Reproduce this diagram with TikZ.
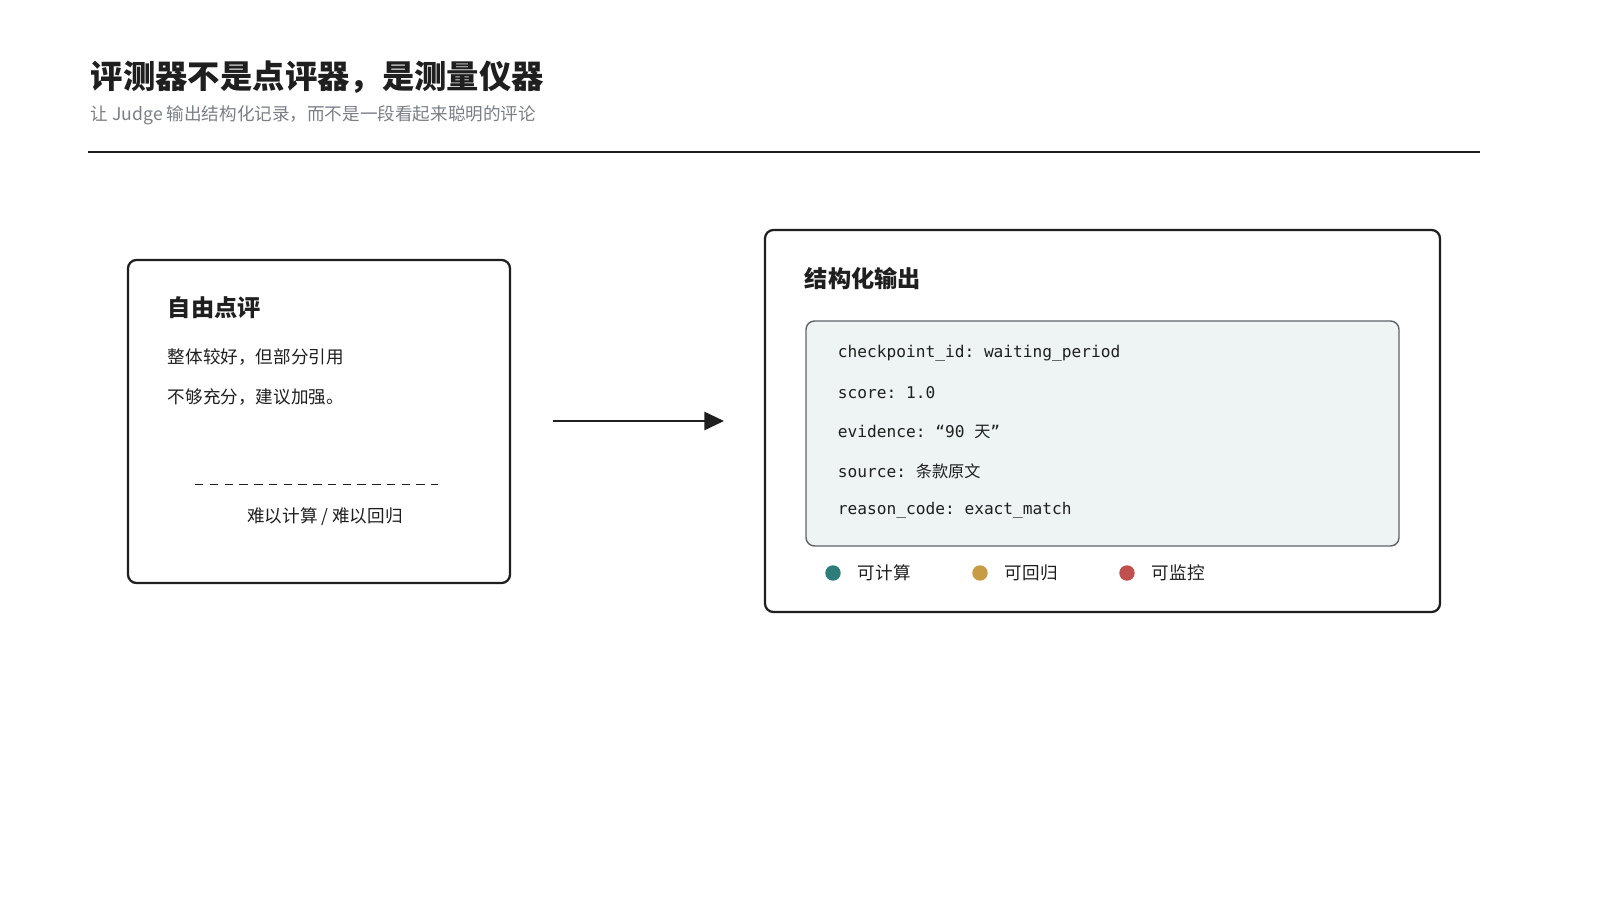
\documentclass[tikz,border=0pt]{standalone}
\usepackage{fontspec}
\setmainfont{Noto Sans CJK SC}
\setmonofont{DejaVu Sans Mono}
\newfontfamily\cjk{Noto Sans CJK SC}
\usetikzlibrary{arrows.meta,positioning}
\definecolor{inkc}{HTML}{1F1F1F}
\definecolor{subc}{HTML}{7A7F87}
\definecolor{panelc}{HTML}{EEF3F3}
\definecolor{edgec}{HTML}{5F6368}
\definecolor{tealc}{HTML}{2E7D7D}
\definecolor{ochrec}{HTML}{C89B45}
\definecolor{redc}{HTML}{C0504D}
\tikzset{
  card/.style={draw=inkc,line width=1.6pt,rounded corners=6pt},
  head/.style={anchor=west,font=\fontsize{16.5}{18}\selectfont\bfseries,text=inkc},
  body/.style={anchor=west,font=\fontsize{12.5}{14}\selectfont,text=inkc},
  code/.style={anchor=west,font=\ttfamily\fontsize{11.5}{13}\selectfont,text=inkc},
  dot/.style={circle,inner sep=0pt,minimum size=11pt}
}
\begin{document}
\begin{tikzpicture}[x=0.025cm,y=-0.025cm]
\useasboundingbox[fill=white] (0,0) rectangle (1600,900);
% header
\node[anchor=west,font=\fontsize{23}{26}\selectfont\bfseries,text=inkc] (title) at (86,77) {评测器不是点评器，是测量仪器};
\node[anchor=west,font=\fontsize{12.5}{14}\selectfont,text=subc] (sub) at (86,115) {让 Judge 输出结构化记录，而不是一段看起来聪明的评论};
\coordinate (rl) at (88,152);
\coordinate (rr) at (1480,152);
\draw[inkc,line width=0.9pt] (rl) -- (rr);
% left card
\draw[card] (128,260) rectangle (510,583);
\node[head] (fhead) at (163,308) {自由点评};
\node[body] (f1) at (163,357) {整体较好，但部分引用};
\node[body] (f2) at (163,397) {不够充分，建议加强。};
\coordinate (dl) at (195,484);
\coordinate (dr) at (438,484);
\draw[inkc,line width=0.7pt,dash pattern=on 6pt off 4.5pt] (dl) -- (dr);
\node[font=\fontsize{12.5}{14}\selectfont,text=inkc] (fnote) at (325,517) {难以计算 / 难以回归};
% arrow
\coordinate (as) at (553,421);
\coordinate (ae) at (724,421);
\draw[inkc,line width=1.4pt,-{Triangle[length=14pt,width=13pt]}] (as) -- (ae);
% right card
\draw[card] (765,230) rectangle (1440,612);
\node[head] (shead) at (800,279) {结构化输出};
\draw[draw=edgec,fill=panelc,line width=1pt,rounded corners=6pt] (806,321) rectangle (1399,546);
\node[code] (c1) at (833,353) {checkpoint\_id: waiting\_period};
\node[code] (c2) at (833,393) {score: 1.0};
\node[code] (c3) at (833,432) {evidence: “90 {\cjk 天}”};
\node[code] (c4) at (833,471) {source: {\cjk 条款原文}};
\node[code] (c5) at (833,510) {reason\_code: exact\_match};
% legend
\foreach \x/\c/\t in {833/tealc/可计算,980/ochrec/可回归,1127/redc/可监控}{
  \node[dot,fill=\c] at (\x,573) {};
  \node[body] at (\x+20,573) {\t};
}
\end{tikzpicture}
\end{document}
